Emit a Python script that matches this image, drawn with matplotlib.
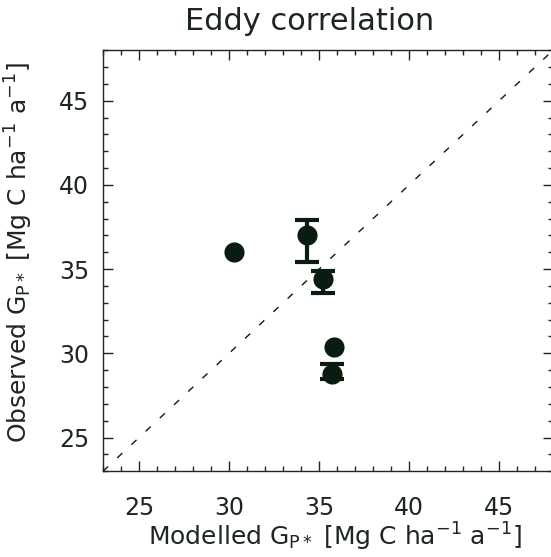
import numpy as np
import matplotlib
matplotlib.use('Agg')
import matplotlib.pyplot as plt
from matplotlib.ticker import MultipleLocator

# modelled vs observed GPP (eddy correlation sites)
modelled = [30.3, 34.3, 35.2, 35.8, 35.7]
observed = [36.0, 37.0, 34.4, 30.4, 28.8]

# sites with visible error bars
err_mod = [34.3, 35.2, 35.7]
err_obs = [37.0, 34.4, 28.8]
err_low = [35.45, 33.6, 28.45]
err_high = [37.9, 34.9, 29.35]

xticks = [25, 30, 35, 40, 45]
yticks = [25, 30, 35, 40, 45]

ink = '#0a1c0f'
txt = '#1e2622'

plt.rcParams['font.family'] = ['DejaVu Sans']
plt.rcParams['mathtext.fontset'] = 'dejavusans'

fig = plt.figure(figsize=(5.51, 5.57), dpi=100)
ax = fig.add_axes([0.187, 0.154, 0.817, 0.756])

ax.plot([23, 48], [23, 48], linestyle=(0, (5, 9)), color=ink, linewidth=1.0)

lo = np.array(err_obs) - np.array(err_low)
hi = np.array(err_high) - np.array(err_obs)
ax.errorbar(err_mod, err_obs, yerr=[lo, hi], fmt='none', ecolor=ink,
            elinewidth=3.0, capsize=8.3, capthick=3.0)
ax.plot(modelled, observed, 'o', color=ink, markersize=14.5, markeredgewidth=0)

ax.set_xlim(23, 48)
ax.set_ylim(23, 48)
ax.set_xticks(xticks)
ax.set_yticks(yticks)
ax.xaxis.set_minor_locator(MultipleLocator(1))
ax.yaxis.set_minor_locator(MultipleLocator(1))
ax.tick_params(which='both', direction='in', top=True, right=True, colors=txt, width=1.0)
ax.tick_params(which='major', length=7.5, labelsize=17)
ax.tick_params(which='minor', length=3.6)
ax.tick_params(axis='x', which='major', pad=18)
ax.tick_params(axis='y', which='major', pad=10)
for lab in ax.get_xticklabels() + ax.get_yticklabels():
    lab.set_color(txt)
for sp in ax.spines.values():
    sp.set_color(txt)
    sp.set_linewidth(1.0)

ax.set_xlabel(r'Modelled G$_{\mathrm{P*}}$ [Mg C ha$^{-1}$ a$^{-1}$]', fontsize=18, color=txt)
ax.set_ylabel(r'Observed G$_{\mathrm{P*}}$ [Mg C ha$^{-1}$ a$^{-1}$]', fontsize=18, color=txt)
ax.xaxis.set_label_coords(0.515, -0.118)
ax.yaxis.set_label_coords(-0.152, 0.52)

fig.text(310 / 551, 1 - 22 / 557, 'Eddy correlation', fontsize=22, color=txt,
         ha='center', va='center')

fig.savefig('out.png', dpi=100)
